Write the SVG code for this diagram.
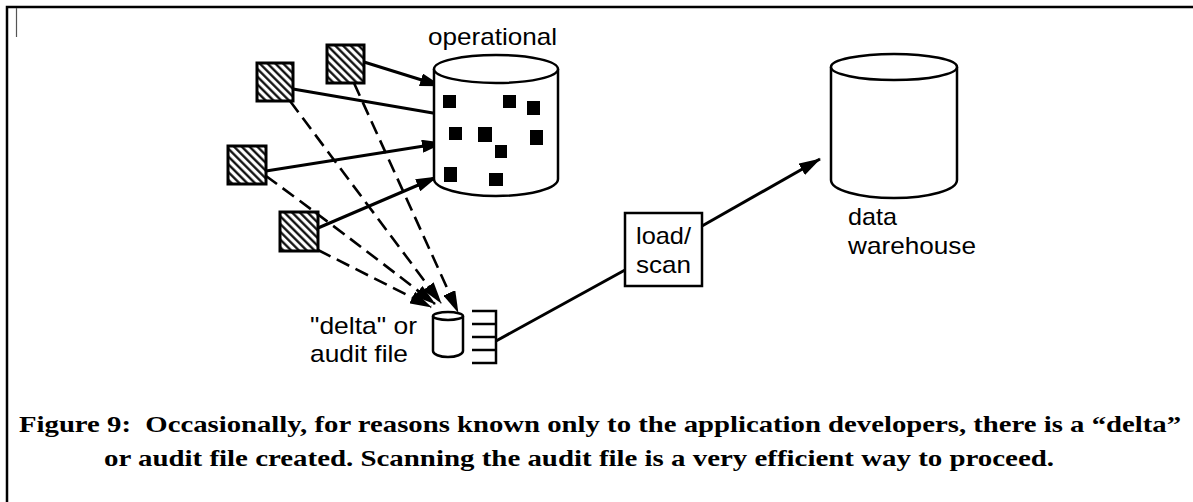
<svg xmlns="http://www.w3.org/2000/svg" width="1193" height="502" viewBox="0 0 1193 502">
  <style>
    .label { font-family: "Liberation Sans", Arial, Helvetica, sans-serif; font-size: 24px; fill: #000; }
    .caption { font-family: "Liberation Serif", "DejaVu Serif", serif; font-weight: bold; font-size: 24px; fill: #000; }
    .outline { fill: #fff; stroke: #000; stroke-width: 2.5; }
    .solid { fill: none; stroke: #000; stroke-width: 3; }
    .dashed { fill: none; stroke: #000; stroke-width: 2.6; stroke-dasharray: 14 7; }
    .app { fill: url(#hatch); stroke: #000; stroke-width: 3; }
    .dot { fill: #000; }
  </style>
  <defs>
    <pattern id="hatch" patternUnits="userSpaceOnUse" width="5.5" height="5.5" patternTransform="rotate(-45)">
      <rect width="5.5" height="5.5" fill="#fff"/>
      <line x1="1.3" y1="0" x2="1.3" y2="5.5" stroke="#000" stroke-width="2.2"/>
    </pattern>
    <!-- long filled arrowhead shared by all connectors -->
    <marker id="head" viewBox="0 0 22 13" refX="21" refY="6.5" markerWidth="22" markerHeight="13" markerUnits="userSpaceOnUse" orient="auto">
      <path d="M0,0 L22,6.5 L0,13 z" fill="#000"/>
    </marker>
  </defs>

  <!-- page frame -->
  <g id="frame" fill="none" stroke="#000">
    <path d="M7,502 V7 H1193" stroke-width="2.5"/>
    <line x1="16.5" y1="8" x2="16.5" y2="37" stroke="#555" stroke-width="1.2"/>
  </g>

  <!-- connectors -->
  <g id="connectors">
    <line class="solid" x1="364" y1="62" x2="441" y2="86" marker-end="url(#head)"/>
    <line class="solid" x1="293" y1="89" x2="462" y2="118" marker-end="url(#head)"/>
    <line class="solid" x1="266" y1="171" x2="443" y2="143" marker-end="url(#head)"/>
    <line class="solid" x1="318" y1="228" x2="437" y2="177" marker-end="url(#head)"/>

    <line class="dashed" x1="354" y1="83" x2="458" y2="312" marker-end="url(#head)"/>
    <line class="dashed" x1="290" y1="101" x2="441" y2="303" marker-end="url(#head)"/>
    <path class="dashed" d="M266,176 Q340,230 435,304" marker-end="url(#head)"/>
    <line class="dashed" x1="318" y1="250" x2="431" y2="307" marker-end="url(#head)"/>

    <line class="solid" x1="496" y1="341" x2="625" y2="270"/>
    <line class="solid" x1="702" y1="226" x2="820" y2="159" marker-end="url(#head)"/>
  </g>

  <!-- application sources -->
  <g id="app-a"><rect class="app" x="327" y="45" width="37" height="38"/></g>
  <g id="app-b"><rect class="app" x="257" y="63" width="36" height="38"/></g>
  <g id="app-c"><rect class="app" x="228" y="146" width="38" height="38"/></g>
  <g id="app-d"><rect class="app" x="280" y="212" width="38" height="39"/></g>

  <!-- operational database -->
  <g id="operational">
    <text class="label" x="428" y="45" textLength="129" lengthAdjust="spacingAndGlyphs">operational</text>
    <path class="outline" d="M434,69 V179 A62,17 0 0 0 558,179 V69"/>
    <ellipse class="outline" cx="496" cy="69" rx="62" ry="14"/>
    <rect class="dot" x="443" y="95" width="13" height="13"/>
    <rect class="dot" x="503" y="95" width="13" height="13"/>
    <rect class="dot" x="527" y="101" width="13" height="14"/>
    <rect class="dot" x="449" y="127" width="13" height="13"/>
    <rect class="dot" x="478" y="127" width="14" height="15"/>
    <rect class="dot" x="530" y="130" width="13" height="15"/>
    <rect class="dot" x="495" y="145" width="12" height="13"/>
    <rect class="dot" x="444" y="167" width="13" height="15"/>
    <rect class="dot" x="489" y="173" width="14" height="13"/>
  </g>

  <!-- delta / audit file -->
  <g id="audit-file">
    <text class="label" x="310" y="334" textLength="107" lengthAdjust="spacingAndGlyphs">"delta" or</text>
    <text class="label" x="310" y="362" textLength="98" lengthAdjust="spacingAndGlyphs">audit file</text>
    <path class="outline" d="M433,316 V351 A15,6 0 0 0 463,351 V316"/>
    <ellipse class="outline" cx="448" cy="316" rx="15" ry="4"/>
    <g fill="none" stroke="#000" stroke-width="2.5">
      <path d="M472,311 H496 V363 H472"/>
      <line x1="472" y1="324" x2="496" y2="324"/>
      <line x1="472" y1="337" x2="496" y2="337"/>
      <line x1="472" y1="350" x2="496" y2="350"/>
    </g>
  </g>

  <!-- load/scan step -->
  <g id="load-scan">
    <rect class="outline" x="625" y="213" width="77" height="73"/>
    <text class="label" x="636" y="244" textLength="55" lengthAdjust="spacingAndGlyphs">load/</text>
    <text class="label" x="636" y="273" textLength="55" lengthAdjust="spacingAndGlyphs">scan</text>
  </g>

  <!-- data warehouse -->
  <g id="warehouse">
    <path class="outline" d="M831,67 V180 A63,18 0 0 0 957,180 V67"/>
    <ellipse class="outline" cx="894" cy="67" rx="63" ry="13"/>
    <text class="label" x="848" y="225" textLength="49" lengthAdjust="spacingAndGlyphs">data</text>
    <text class="label" x="848" y="254" textLength="128" lengthAdjust="spacingAndGlyphs">warehouse</text>
  </g>

  <!-- figure caption -->
  <g id="caption">
    <text class="caption" x="19" y="432" textLength="1162" lengthAdjust="spacingAndGlyphs">Figure 9:&#160; Occasionally, for reasons known only to the application developers, there is a “delta”</text>
    <text class="caption" x="104" y="466" textLength="950" lengthAdjust="spacingAndGlyphs">or audit file created. Scanning the audit file is a very efficient way to proceed.</text>
  </g>
</svg>
